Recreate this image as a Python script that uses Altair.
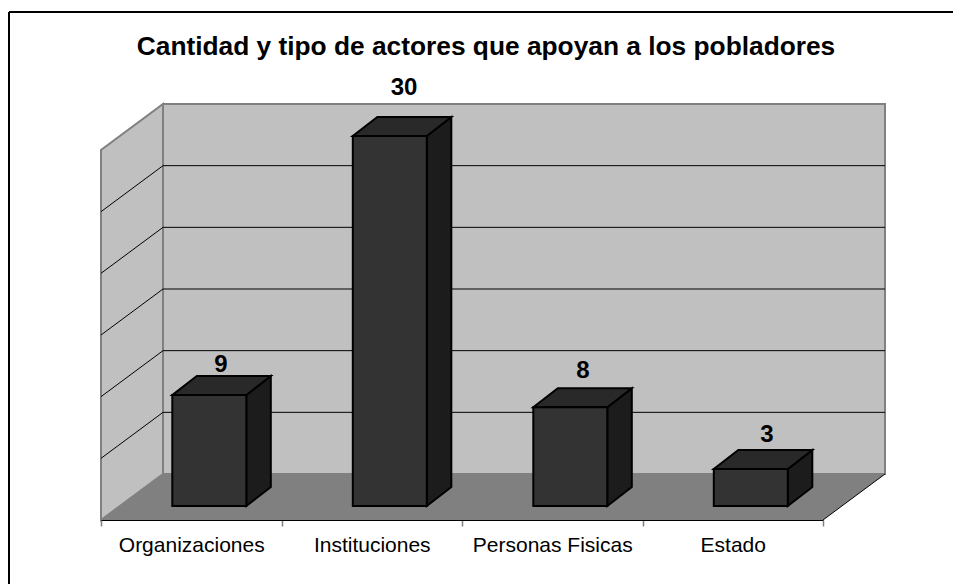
import json
import altair as alt
import pandas as pd

# ---- chart values
categories = ["Organizaciones", "Instituciones", "Personas Fisicas", "Estado"]
values = [9, 30, 8, 3]
gridline_values = [5, 10, 15, 20, 25]
title_text = "Cantidad y tipo de actores que apoyan a los pobladores"

# ---- layout (in scale units) of the pseudo-3D box
W, H = 722, 370
N = len(categories)
YMAX = 30
WALL_DX, WALL_DY = 62 / (W / N), 46 / (H / YMAX)
BAR_LEFT, BAR_W = 0.395, 0.41
BAR_BASE = 14 / (H / YMAX)
BAR_DX, BAR_DY = 24.5 / (W / N), 19 / (H / YMAX)
LABEL_DX = [0.665, 1.679, 2.670, 3.690]
LABEL_LIFT = [0.9, 2.36, 1.4, 1.2]

GREY = "#808080"
WALL = "#c0c0c0"
FONT = "Liberation Sans"

x_s = alt.Scale(domain=[0, N], nice=False, zero=False)
y_s = alt.Scale(domain=[0, YMAX], nice=False, zero=False)
label_expr = "datum.value < %d ? %s[datum.value] : ''" % (N, json.dumps(categories))
x_axis = alt.Axis(
    values=list(range(N + 1)),
    title=None,
    grid=False,
    zindex=1,
    domainColor="#000000",
    domainWidth=1,
    tickColor=GREY,
    tickWidth=1.5,
    tickSize=6,
    labelExpr=label_expr,
    labelFont=FONT,
    labelFontSize=21,
    labelColor="#000000",
    labelOffset=W / N / 2,
    labelAlign="center",
    labelPadding=8,
    labelFlush=False,
    labelOverlap=False,
    labelBound=False,
)
X = alt.X("x:Q", scale=x_s, axis=x_axis)
Y = alt.Y("y:Q", scale=y_s, axis=None)


def vert_area(points, **style):
    """Parallelogram with vertical sides; points = (x, y, y2)."""
    df = pd.DataFrame(points, columns=["x", "y", "y2"])
    return alt.Chart(df).mark_area(orient="vertical", interpolate="linear", **style).encode(
        x=X, y=Y, y2="y2:Q"
    )


def horiz_area(points, **style):
    """Parallelogram with horizontal sides; points = (y, x, x2)."""
    df = pd.DataFrame(points, columns=["y", "x", "x2"])
    return alt.Chart(df).mark_area(orient="horizontal", interpolate="linear", **style).encode(
        y=Y, x=X, x2="x2:Q"
    )


def seg(x0, y0, x1, y1, **style):
    df = pd.DataFrame({"x": [x0, x1], "y": [y0, y1]})
    return alt.Chart(df).mark_line(**style).encode(x=X, y=Y, order=alt.Order("x:Q"))


layers = []

# back wall
back = pd.DataFrame([{"x": WALL_DX, "x2": N + WALL_DX, "y": WALL_DY, "y2": YMAX + WALL_DY}])
layers.append(
    alt.Chart(back).mark_rect(fill=WALL, stroke=GREY, strokeWidth=2).encode(x=X, x2="x2:Q", y=Y, y2="y2:Q")
)
# left wall
layers.append(
    vert_area([(0, 0, YMAX), (WALL_DX, WALL_DY, YMAX + WALL_DY)], fill=WALL, stroke=GREY, strokeWidth=2)
)
# floor
layers.append(horiz_area([(0, 0, N), (WALL_DY, WALL_DX, N + WALL_DX)], fill=GREY))
layers.append(seg(N, 0, N + WALL_DX, WALL_DY, color="#000000", strokeWidth=1))

# gridlines
for v in gridline_values:
    layers.append(seg(0, v, WALL_DX, v + WALL_DY, color="#000000", strokeWidth=1))
    layers.append(seg(WALL_DX, v + WALL_DY, N + WALL_DX, v + WALL_DY, color="#000000", strokeWidth=1))

# bars
for i, v in enumerate(values):
    x0 = i + BAR_LEFT
    x1 = x0 + BAR_W
    top = BAR_BASE + v
    layers.append(
        vert_area(
            [(x1, BAR_BASE, top), (x1 + BAR_DX, BAR_BASE + BAR_DY, top + BAR_DY)],
            fill="#1c1c1c", stroke="#000000", strokeWidth=2,
        )
    )
    layers.append(
        horiz_area(
            [(top, x0, x1), (top + BAR_DY, x0 + BAR_DX, x1 + BAR_DX)],
            fill="#292929", stroke="#000000", strokeWidth=2,
        )
    )
    front = pd.DataFrame([{"x": x0, "x2": x1, "y": BAR_BASE, "y2": top}])
    layers.append(
        alt.Chart(front).mark_rect(fill="#333333", stroke="#000000", strokeWidth=2).encode(
            x=X, x2="x2:Q", y=Y, y2="y2:Q"
        )
    )

# value labels
labels = pd.DataFrame(
    {
        "x": LABEL_DX,
        "y": [BAR_BASE + v + BAR_DY + lift for v, lift in zip(values, LABEL_LIFT)],
        "t": [str(v) for v in values],
    }
)
layers.append(
    alt.Chart(labels)
    .mark_text(font=FONT, fontSize=24, fontWeight="bold", color="#000000", align="center", baseline="middle")
    .encode(x=X, y=Y, text="t:N")
)

# outer frame: only the left and top edges fall inside the picture
frame_x = -92 / (W / N)
frame_y = (520 - 12) / (H / YMAX)
layers.append(seg(frame_x, frame_y, N + 130 / (W / N), frame_y, color="#000000", strokeWidth=2))
left_edge = pd.DataFrame([{"x": frame_x, "y": frame_y, "y2": -64 / (H / YMAX)}])
layers.append(
    alt.Chart(left_edge).mark_rule(color="#000000", strokeWidth=2).encode(x=X, y=Y, y2="y2:Q")
)

chart = (
    alt.layer(*layers)
    .properties(
        width=W,
        height=H,
        padding={"left": 93, "top": 142, "right": 130, "bottom": 64},
        autosize=alt.AutoSizeParams(type="none"),
        background="#ffffff",
        title=alt.TitleParams(
            title_text,
            font=FONT,
            fontSize=26.3,
            fontWeight="bold",
            color="#000000",
            anchor="middle",
            frame="group",
            dx=24,
            offset=0,
            dy=52,
        ),
    )
    .configure_view(stroke=None)
)

chart.save("out.html", embed_options={"renderer": "svg", "actions": False})
